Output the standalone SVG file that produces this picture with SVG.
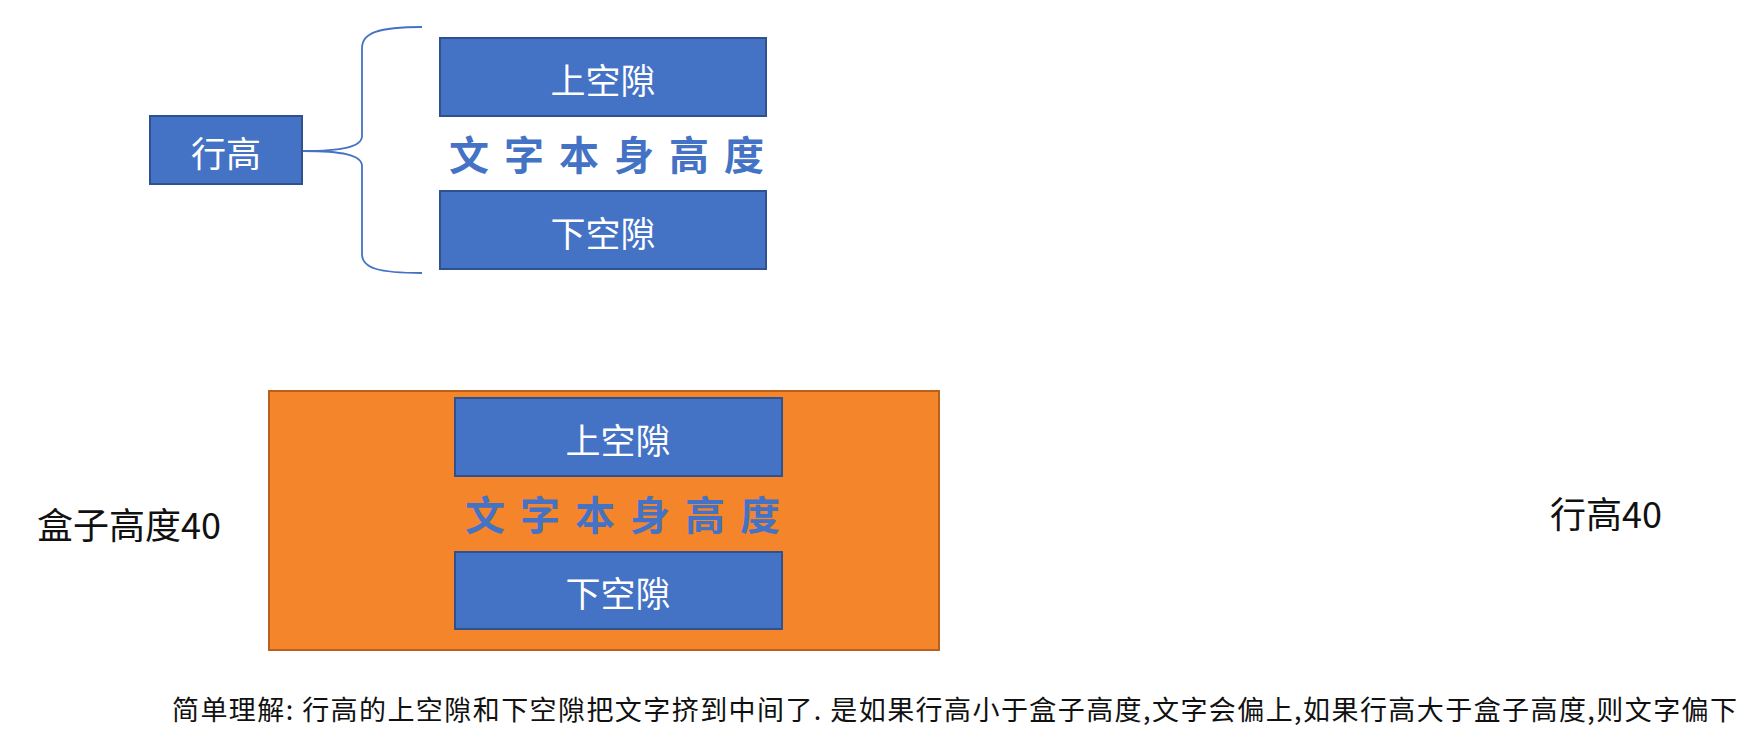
<svg xmlns="http://www.w3.org/2000/svg" width="1759" height="743" viewBox="0 0 1759 743">
<style>
.box{fill:#4472C4;stroke:#2F528F;stroke-width:2}
.lbl{font-family:"Noto Sans CJK SC","Noto Sans",sans-serif;font-size:35px;fill:#ffffff;text-anchor:middle;dominant-baseline:central}
.big{font-family:"Noto Sans CJK SC","Noto Sans",sans-serif;font-size:40px;font-weight:bold;fill:#4472C4;letter-spacing:15px;dominant-baseline:central}
.plain{font-family:"Noto Sans CJK SC","Liberation Sans",sans-serif;fill:#111111;dominant-baseline:central}
</style>
<rect width="1759" height="743" fill="#ffffff"/>
<g id="connectors">
<path d="M 422,27 C 378,27 362,33 362,48 L 362,136 C 362,147 342,151 303,151 C 342,151 362,155 362,166 L 362,254 C 362,268 378,273 422,273" fill="none" stroke="#4472C4" stroke-width="1.8"/>
</g>
<g id="node-hanggao">
<rect class="box" x="150" y="116" width="152" height="68"/>
<text class="lbl" x="226" y="151">行高</text>
</g>
<g id="node-top-gap">
<rect class="box" x="440" y="38" width="326" height="78"/>
<text class="lbl" x="603" y="78">上空隙</text>
</g>
<g id="node-text-height">
<text class="big" x="449" y="153">文字本身高度</text>
</g>
<g id="node-bottom-gap">
<rect class="box" x="440" y="191" width="326" height="78"/>
<text class="lbl" x="603" y="231">下空隙</text>
</g>
<g id="node-box">
<rect x="269" y="391" width="670" height="259" fill="#F5852B" stroke="#B8601C" stroke-width="2"/>
</g>
<g id="node-box-top-gap">
<rect class="box" x="455" y="398" width="327" height="78"/>
<text class="lbl" x="618" y="438">上空隙</text>
</g>
<g id="node-box-text-height">
<text class="big" x="465" y="513">文字本身高度</text>
</g>
<g id="node-box-bottom-gap">
<rect class="box" x="455" y="552" width="327" height="77"/>
<text class="lbl" x="618" y="591">下空隙</text>
</g>
<g id="label-box-height">
<text class="plain" x="37" y="523" font-size="36">盒子高度40</text>
</g>
<g id="label-line-height">
<text class="plain" x="1550" y="512" font-size="36">行高40</text>
</g>
<g id="caption">
<text class="plain" x="172" y="708" font-size="27" fill="#333333" textLength="1565" lengthAdjust="spacing">简单理解: 行高的上空隙和下空隙把文字挤到中间了. 是如果行高小于盒子高度,文字会偏上,如果行高大于盒子高度,则文字偏下</text>
</g>
</svg>
